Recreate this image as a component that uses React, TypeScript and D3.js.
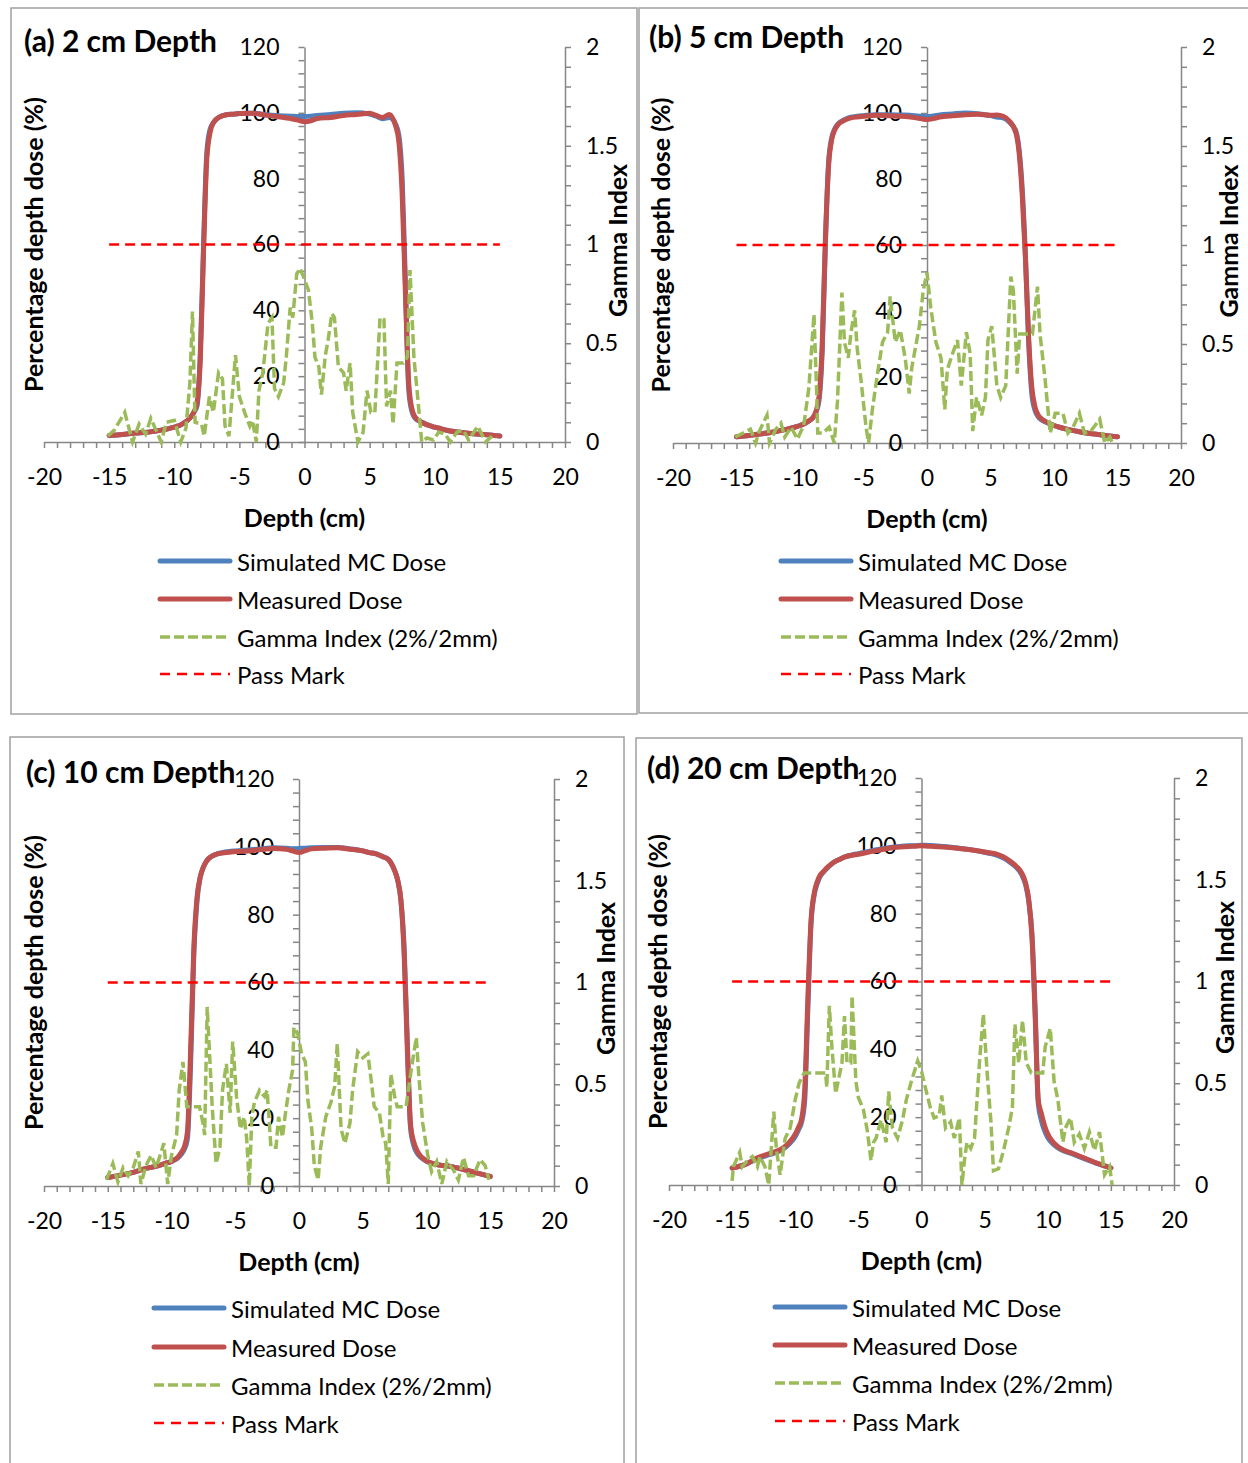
import React, { useRef, useEffect } from 'react';
import * as d3 from 'd3';

// sampling positions of the dose profiles (cm), shared by the four depths
const depthCm = [-15, -14, -13, -12, -11, -10.5, -10, -9.75, -9.5, -9.25, -9, -8.75, -8.5, -8.25, -8,
  -7.75, -7.5, -7.25, -7, -6.5, -6, -5.5, -5, -4, -3, -2, -1, -0.5, 0, 0.5, 1, 2, 3, 4, 5, 5.5, 6, 6.5, 7,
  7.25, 7.5, 7.75, 8, 8.25, 8.5, 8.75, 9, 9.25, 9.5, 9.75, 10, 10.5, 11, 12, 13, 14, 15];

// (a) 2 cm
const measured2 = [2.0, 2.3, 2.7, 3.0, 3.6, 4.0, 4.5, 4.8, 5.2, 5.8, 6.5, 7.5, 9.0, 12, 25,
  58, 86, 94, 97, 98.8, 99.4, 99.6, 99.8, 99.9, 99.3, 98.8, 98.2, 97.8, 97.3, 97.6, 98.3, 98.6, 99.2, 99.5, 99.9, 99.2, 98.6, 99.5, 96,
  91, 75, 45, 18, 10, 7.5, 6.6, 6.0, 5.5, 5.1, 4.8, 4.5, 4.0, 3.5, 2.9, 2.5, 2.2, 1.8];
const simulated2 = [2.0, 2.3, 2.7, 3.0, 3.6, 4.0, 4.5, 4.8, 5.2, 5.8, 6.5, 7.5, 9.0, 11, 27,
  60, 88, 95, 97, 98.8, 99.4, 99.6, 99.8, 99.9, 99.4, 99.1, 99.0, 98.9, 98.9, 99.0, 99.2, 99.5, 99.9, 100, 99.6, 99.0, 98.2, 98.6, 96.5,
  93, 80, 48, 16, 9.2, 7.2, 6.5, 6.0, 5.5, 5.1, 4.8, 4.5, 4.0, 3.5, 2.9, 2.5, 2.2, 1.8];

// (b) 5 cm
const measured5 = [1.9, 2.3, 2.8, 3.4, 4.2, 4.7, 5.3, 5.7, 6.2, 6.8, 7.6, 9.5, 14, 30, 62,
  84, 92, 95, 96.5, 97.8, 98.5, 98.8, 99, 99.3, 99.2, 99, 98.6, 98.3, 98.0, 98.3, 98.8, 99.2, 99.5, 99.6, 99.3, 99.4, 99, 97.5, 94,
  88, 75, 56, 32, 17, 11, 8.5, 7.4, 6.7, 6.2, 5.7, 5.3, 4.7, 4.2, 3.4, 2.8, 2.3, 1.9];
const simulated5 = [1.9, 2.3, 2.8, 3.4, 4.2, 4.7, 5.3, 5.7, 6.2, 6.8, 7.6, 9.3, 13, 28, 60,
  85, 92.5, 95.3, 96.7, 98, 98.7, 99, 99.2, 99.5, 99.5, 99.4, 99.2, 99.0, 98.9, 99.1, 99.4, 99.7, 100, 99.8, 99.2, 98.8, 98.5, 97.2, 94.5,
  89, 77, 57, 31, 15, 10, 8.0, 7.0, 6.5, 6.1, 5.7, 5.3, 4.7, 4.2, 3.4, 2.8, 2.3, 1.9];

// (c) 10 cm
const measured10 = [2.5, 3.2, 4.0, 5.2, 6.0, 6.7, 7.2, 7.8, 8.5, 9.8, 11.5, 16, 40, 70, 85,
  91, 94, 95.8, 96.8, 97.8, 98.2, 98.4, 98.6, 98.8, 99.2, 99.5, 99.3, 98.8, 98.3, 98.9, 99.4, 99.6, 99.7, 99.3, 98.8, 98.3, 98, 97.2, 96.3,
  95, 93, 90, 84, 68, 40, 18, 13, 10.5, 9, 8.1, 7.4, 6.6, 6.2, 5.7, 4.8, 3.8, 2.8];
const simulated10 = [2.5, 3.2, 4.0, 5.2, 6.0, 6.7, 7.2, 7.7, 8.3, 9.3, 10.8, 14, 36, 68, 84,
  91, 94, 95.8, 96.8, 97.8, 98.3, 98.6, 98.8, 99.1, 99.4, 99.7, 99.6, 99.4, 99.5, 99.6, 99.7, 99.8, 99.8, 99.4, 98.8, 98.3, 98, 97.2, 96.3,
  95, 93, 90, 84, 70, 42, 17, 12, 9.8, 8.6, 7.9, 7.3, 6.6, 6.2, 5.7, 4.8, 3.8, 2.8];

// (d) 20 cm
const measured20 = [5.0, 6.0, 8.0, 9.3, 10.8, 12.5, 15, 17, 19.5, 28, 55, 78, 86, 89.5, 91.5,
  92.5, 93.5, 94.3, 95, 96, 96.8, 97.2, 97.5, 98.3, 99, 99.6, 99.8, 99.9, 100, 99.9, 99.8, 99.6, 99.2, 98.8, 98.2, 97.9, 97.5, 96.7, 95.5,
  94.8, 94, 93, 91.5, 89, 84, 73, 50, 25, 21, 17.5, 15, 12.3, 10.8, 9.3, 7.8, 6.3, 5.0];
const simulated20 = [5.0, 6.0, 7.8, 9.0, 10.5, 12.0, 14.3, 16.2, 18.5, 25, 52, 77, 85.5, 89, 91.2,
  92.3, 93.3, 94.2, 95, 96, 96.8, 97.3, 97.7, 98.5, 99.2, 99.7, 100, 100, 100.2, 100.1, 100, 99.7, 99.3, 98.8, 98.1, 97.7, 97.2, 96.4, 95.2,
  94.5, 93.7, 92.6, 91, 88.5, 83.5, 74, 52, 24, 19, 16, 14, 11.8, 10.5, 9.1, 7.6, 6.2, 5.0];

// gamma index (2%/2mm) along the profile: [cm, gamma]
const gamma2: [number, number][] = [[-15.1, 0.03], [-14.6, 0.06], [-13.8, 0.15], [-13.2, 0.0], [-12.7, 0.09], [-12.2, 0.04],
  [-11.8, 0.12], [-11.0, 0.0], [-10.6, 0.10], [-10.0, 0.11], [-9.5, 0.0], [-9.1, 0.07], [-8.8, 0.3], [-8.6, 0.66], [-8.4, 0.10],
  [-7.9, 0.09], [-7.7, 0.03], [-7.3, 0.23], [-7.0, 0.15], [-6.6, 0.35], [-6.3, 0.32], [-6.1, 0.08], [-5.8, 0.03], [-5.3, 0.44],
  [-5.0, 0.23], [-4.6, 0.15], [-4.2, 0.08], [-4.0, 0.11], [-3.7, 0.0], [-3.5, 0.26], [-3.2, 0.35], [-2.8, 0.60], [-2.5, 0.63],
  [-2.3, 0.27], [-2.0, 0.23], [-1.6, 0.30], [-1.4, 0.43], [-1.1, 0.68], [-0.9, 0.63], [-0.6, 0.85], [-0.35, 0.88], [-0.1, 0.84],
  [0.3, 0.77], [0.6, 0.60], [0.8, 0.43], [1.1, 0.38], [1.3, 0.24], [1.6, 0.44], [1.8, 0.51], [2.1, 0.65], [2.3, 0.63], [2.6, 0.38],
  [3.0, 0.35], [3.2, 0.26], [3.5, 0.40], [3.7, 0.15], [4.1, 0.0], [4.5, 0.05], [4.8, 0.26], [5.1, 0.15], [5.4, 0.15], [5.8, 0.63],
  [6.1, 0.62], [6.3, 0.18], [6.6, 0.26], [6.8, 0.09], [7.1, 0.40], [7.6, 0.40], [7.9, 0.43], [8.1, 0.87], [8.4, 0.43], [8.7, 0.22],
  [9.0, 0.0], [9.4, 0.02], [9.9, 0.01], [10.3, 0.05], [10.8, 0.04], [11.2, 0.0], [11.7, 0.05], [12.2, 0.06], [12.6, 0.01],
  [13.3, 0.08], [13.9, 0.0], [14.4, 0.03], [14.7, 0.02]];

const gamma5: [number, number][] = [[-15.1, 0.03], [-13.9, 0.07], [-13.5, 0.0], [-13.2, 0.06], [-12.6, 0.14], [-12.4, 0.0],
  [-11.9, 0.07], [-11.5, 0.10], [-11.2, 0.03], [-10.7, 0.08], [-10.2, 0.02], [-9.7, 0.09], [-9.3, 0.28], [-8.9, 0.65], [-8.7, 0.28],
  [-8.6, 0.05], [-8.2, 0.05], [-7.7, 0.08], [-7.3, 0.0], [-7.05, 0.21], [-6.7, 0.76], [-6.5, 0.51], [-6.2, 0.43], [-6.0, 0.55],
  [-5.7, 0.67], [-5.5, 0.48], [-5.2, 0.32], [-4.8, 0.08], [-4.6, 0.0], [-4.3, 0.17], [-3.9, 0.35], [-3.5, 0.51], [-3.1, 0.56],
  [-2.9, 0.74], [-2.5, 0.51], [-2.1, 0.57], [-1.7, 0.42], [-1.4, 0.25], [-1.2, 0.38], [-0.6, 0.59], [-0.3, 0.77], [0.0, 0.86],
  [0.3, 0.68], [0.7, 0.51], [1.1, 0.43], [1.4, 0.17], [1.6, 0.37], [2.0, 0.45], [2.4, 0.52], [2.7, 0.29], [3.1, 0.56], [3.4, 0.45],
  [3.6, 0.06], [3.9, 0.23], [4.3, 0.14], [4.6, 0.23], [4.8, 0.52], [5.1, 0.59], [5.5, 0.29], [5.8, 0.23], [6.2, 0.29], [6.6, 0.84],
  [6.8, 0.77], [7.1, 0.35], [7.3, 0.55], [7.7, 0.55], [8.3, 0.55], [8.7, 0.79], [8.9, 0.55], [9.3, 0.32], [9.7, 0.05], [10.1, 0.15],
  [10.7, 0.15], [11.1, 0.05], [11.5, 0.08], [12.0, 0.15], [12.4, 0.05], [12.9, 0.06], [13.6, 0.12], [14.0, 0.0], [14.4, 0.03],
  [14.6, 0.0]];

const gamma10: [number, number][] = [[-15.1, 0.03], [-14.6, 0.11], [-14.2, 0.02], [-13.8, 0.09], [-13.4, 0.05], [-13.0, 0.09],
  [-12.6, 0.17], [-12.4, 0.01], [-12.0, 0.10], [-11.6, 0.15], [-11.2, 0.09], [-10.6, 0.21], [-10.3, 0.01], [-10.0, 0.15],
  [-9.6, 0.25], [-9.4, 0.47], [-9.1, 0.61], [-8.8, 0.39], [-7.8, 0.39], [-7.5, 0.30], [-7.4, 0.25], [-7.2, 0.88], [-7.0, 0.63],
  [-6.8, 0.38], [-6.5, 0.11], [-6.2, 0.19], [-6.0, 0.47], [-5.7, 0.60], [-5.4, 0.36], [-5.2, 0.71], [-4.9, 0.44], [-4.6, 0.28],
  [-4.3, 0.34], [-4.1, 0.23], [-3.9, 0.0], [-3.7, 0.34], [-3.5, 0.41], [-3.1, 0.47], [-2.7, 0.44], [-2.5, 0.47], [-2.2, 0.19],
  [-1.8, 0.19], [-1.6, 0.34], [-1.3, 0.24], [-1.1, 0.34], [-0.8, 0.47], [-0.5, 0.57], [-0.4, 0.78], [-0.1, 0.75], [0.2, 0.65],
  [0.5, 0.61], [0.7, 0.42], [1.0, 0.28], [1.2, 0.10], [1.5, 0.03], [1.7, 0.19], [2.1, 0.34], [2.5, 0.41], [2.8, 0.49], [3.0, 0.70],
  [3.3, 0.28], [3.6, 0.21], [4.0, 0.31], [4.2, 0.47], [4.6, 0.66], [5.0, 0.63], [5.4, 0.65], [5.7, 0.50], [5.9, 0.39], [6.3, 0.36],
  [6.6, 0.24], [6.8, 0.21], [7.0, 0.01], [7.2, 0.55], [7.5, 0.44], [7.7, 0.39], [8.4, 0.39], [8.8, 0.57], [9.2, 0.73], [9.4, 0.54],
  [9.7, 0.31], [10.1, 0.15], [10.4, 0.07], [10.8, 0.12], [11.2, 0.01], [11.6, 0.12], [12.1, 0.08], [12.5, 0.03], [12.9, 0.14],
  [13.3, 0.05], [13.7, 0.05], [14.2, 0.13], [14.6, 0.10], [14.9, 0.03]];

const gamma20: [number, number][] = [[-15.0, 0.02], [-14.9, 0.09], [-14.4, 0.16], [-14.2, 0.09], [-13.8, 0.12], [-13.4, 0.14],
  [-13.0, 0.09], [-12.8, 0.14], [-12.4, 0.09], [-12.1, 0.0], [-11.9, 0.18], [-11.7, 0.36], [-11.5, 0.18], [-11.2, 0.05],
  [-10.8, 0.23], [-10.4, 0.28], [-10.0, 0.42], [-9.7, 0.50], [-9.3, 0.55], [-7.6, 0.55], [-7.5, 0.48], [-7.3, 0.88], [-7.1, 0.68],
  [-6.8, 0.45], [-6.6, 0.51], [-6.3, 0.60], [-6.1, 0.83], [-5.9, 0.60], [-5.6, 0.60], [-5.5, 0.93], [-5.2, 0.51], [-5.0, 0.43],
  [-4.6, 0.37], [-4.3, 0.27], [-4.0, 0.12], [-3.8, 0.21], [-3.6, 0.23], [-3.2, 0.32], [-2.8, 0.21], [-2.6, 0.46], [-2.3, 0.28],
  [-1.9, 0.23], [-1.5, 0.32], [-1.2, 0.42], [-0.8, 0.51], [-0.3, 0.61], [0.0, 0.56], [0.3, 0.48], [0.7, 0.38], [1.0, 0.33],
  [1.4, 0.34], [1.6, 0.44], [1.9, 0.28], [2.3, 0.31], [2.6, 0.23], [3.0, 0.33], [3.2, 0.0], [3.4, 0.12], [3.6, 0.21], [3.9, 0.18],
  [4.2, 0.23], [4.6, 0.61], [4.9, 0.84], [5.2, 0.55], [5.5, 0.31], [5.7, 0.07], [6.1, 0.08], [6.5, 0.17], [6.9, 0.28], [7.2, 0.38],
  [7.4, 0.79], [7.7, 0.60], [8.0, 0.81], [8.3, 0.60], [8.7, 0.55], [9.6, 0.55], [9.8, 0.68], [10.2, 0.77], [10.5, 0.51],
  [10.8, 0.42], [11.2, 0.21], [11.4, 0.28], [11.8, 0.33], [12.1, 0.21], [12.5, 0.25], [12.9, 0.18], [13.3, 0.26], [13.7, 0.17],
  [14.1, 0.26], [14.5, 0.05], [14.9, 0.09], [15.1, 0.0]];

const titles = ['(a) 2 cm Depth', '(b) 5 cm Depth', '(c) 10 cm Depth', '(d) 20 cm Depth'];
const legendLabels = ['Simulated MC Dose', 'Measured Dose', 'Gamma Index (2%/2mm)', 'Pass Mark'];
const xTicks = [-20, -15, -10, -5, 0, 5, 10, 15, 20];
const doseTicks = [0, 20, 40, 60, 80, 100, 120];
const gammaTicks = [0, 0.5, 1, 1.5, 2];
const passMark = 1;
const passRange = [-15, 15];

const series = [
  { sim: simulated2, meas: measured2, gamma: gamma2 },
  { sim: simulated5, meas: measured5, gamma: gamma5 },
  { sim: simulated10, meas: measured10, gamma: gamma10 },
  { sim: simulated20, meas: measured20, gamma: gamma20 },
];

// page layout of each panel
const layouts = [
  { box: [11, 8, 626, 706], x0: 44, x1: 565, yb: 442, yt: 47, title: [24, 52], legX: 160, legY: [561, 599, 637, 674], yLab: 33, gLab: 617 },
  { box: [639, 8, 640, 705], x0: 673, x1: 1181, yb: 443, yt: 47, title: [649, 48], legX: 781, legY: [561, 599, 637, 674], yLab: 660, gLab: 1228 },
  { box: [10, 737, 614, 760], x0: 44, x1: 554, yb: 1186, yt: 779, title: [26, 783], legX: 154, legY: [1308, 1347, 1385, 1423], yLab: 33, gLab: 605 },
  { box: [636, 738, 606, 760], x0: 669, x1: 1174, yb: 1185, yt: 778, title: [647, 779], legX: 775, legY: [1307, 1345, 1383, 1421], yLab: 657, gLab: 1224 },
];

const FONT = 'Lato, sans-serif';
const AXIS = '#868686';
const BLUE = '#4f81bd';
const RED = '#c0504d';
const GREEN = '#9bbb59';

export default function App() {
  const svgRef = useRef<SVGSVGElement>(null);

  useEffect(() => {
    const svg = d3.select(svgRef.current);
    svg.selectAll('*').remove();
    svg.append('rect').attr('width', 1248).attr('height', 1463).attr('fill', 'white');

    layouts.forEach((L, i) => {
      const s = series[i];
      const g = svg.append('g');

      g.append('rect')
        .attr('x', L.box[0]).attr('y', L.box[1])
        .attr('width', L.box[2]).attr('height', L.box[3])
        .attr('fill', 'none').attr('stroke', '#a0a0a0').attr('stroke-width', 1.5);

      const x = d3.scaleLinear().domain([-20, 20]).range([L.x0, L.x1]);
      const y = d3.scaleLinear().domain([0, 120]).range([L.yb, L.yt]);
      const yg = d3.scaleLinear().domain([0, 2]).range([L.yb, L.yt]);

      const styleAxis = (sel: any) => {
        sel.select('.domain').attr('stroke', AXIS).attr('stroke-width', 1.5);
        sel.selectAll('.tick line').attr('stroke', AXIS).attr('stroke-width', 1.5);
        sel.selectAll('.tick text').attr('font-family', FONT).attr('font-size', 23).attr('fill', 'black');
      };

      // x axis
      g.append('g')
        .attr('transform', `translate(0,${L.yb})`)
        .call(d3.axisBottom(x)
          .tickValues(d3.range(-20, 21, 1))
          .tickSize(6).tickSizeOuter(0).tickPadding(21)
          .tickFormat((d: any) => (xTicks.includes(d) ? String(d) : '')))
        .call(styleAxis);

      // primary y axis at depth 0
      g.append('g')
        .attr('transform', `translate(${x(0)},0)`)
        .call(d3.axisLeft(y)
          .tickValues(d3.range(0, 121, 4))
          .tickSize(6).tickSizeOuter(0).tickPadding(19)
          .tickFormat((d: any) => (doseTicks.includes(d) ? String(d) : '')))
        .call(styleAxis);

      // secondary y axis (gamma)
      g.append('g')
        .attr('transform', `translate(${L.x1},0)`)
        .call(d3.axisRight(yg)
          .tickValues(d3.range(0, 21).map(k => k / 10))
          .tickSize(6).tickSizeOuter(0).tickPadding(15)
          .tickFormat((d: any) => (gammaTicks.includes(d) ? String(d) : '')))
        .call(styleAxis);

      // dose profiles
      const doseLine = d3.line<number>()
        .x((_, k) => x(depthCm[k]))
        .y(d => y(d))
        .curve(d3.curveMonotoneX);

      g.append('path').datum(s.sim)
        .attr('fill', 'none').attr('stroke', BLUE).attr('stroke-width', 5)
        .attr('stroke-linejoin', 'round').attr('stroke-linecap', 'round')
        .attr('d', doseLine);
      g.append('path').datum(s.meas)
        .attr('fill', 'none').attr('stroke', RED).attr('stroke-width', 5)
        .attr('stroke-linejoin', 'round').attr('stroke-linecap', 'round')
        .attr('d', doseLine);

      // gamma index
      const gammaLine = d3.line<[number, number]>()
        .x(d => x(d[0]))
        .y(d => yg(d[1]));
      g.append('path').datum(s.gamma)
        .attr('fill', 'none').attr('stroke', GREEN).attr('stroke-width', 3.5)
        .attr('stroke-dasharray', '10 4')
        .attr('d', gammaLine);

      // pass mark
      g.append('line')
        .attr('x1', x(passRange[0])).attr('x2', x(passRange[1]))
        .attr('y1', yg(passMark)).attr('y2', yg(passMark))
        .attr('stroke', '#ff0000').attr('stroke-width', 2.5)
        .attr('stroke-dasharray', '10 6');

      // titles
      g.append('text')
        .attr('x', L.title[0]).attr('y', L.title[1])
        .attr('font-family', FONT).attr('font-weight', 'bold').attr('font-size', 30)
        .text(titles[i]);

      g.append('text')
        .attr('x', (L.x0 + L.x1) / 2).attr('y', L.yb + 75)
        .attr('text-anchor', 'middle').attr('dominant-baseline', 'central')
        .attr('font-family', FONT).attr('font-weight', 'bold').attr('font-size', 25)
        .text('Depth (cm)');

      g.append('text')
        .attr('transform', `translate(${L.yLab},${(L.yb + L.yt) / 2}) rotate(-90)`)
        .attr('text-anchor', 'middle').attr('dominant-baseline', 'central')
        .attr('font-family', FONT).attr('font-weight', 'bold').attr('font-size', 25)
        .text('Percentage depth dose (%)');

      g.append('text')
        .attr('transform', `translate(${L.gLab},${(L.yb + L.yt) / 2 - 4}) rotate(-90)`)
        .attr('text-anchor', 'middle').attr('dominant-baseline', 'central')
        .attr('font-family', FONT).attr('font-weight', 'bold').attr('font-size', 25)
        .text('Gamma Index');

      // legend
      const legStyles = [
        { color: BLUE, width: 5, dash: null },
        { color: RED, width: 5, dash: null },
        { color: GREEN, width: 3.5, dash: '10 4' },
        { color: '#ff0000', width: 2.5, dash: '10 7' },
      ];
      legendLabels.forEach((label, k) => {
        const st = legStyles[k];
        const ly = L.legY[k];
        g.append('line')
          .attr('x1', L.legX).attr('x2', L.legX + 70)
          .attr('y1', ly).attr('y2', ly)
          .attr('stroke', st.color).attr('stroke-width', st.width)
          .attr('stroke-linecap', st.dash ? 'butt' : 'round')
          .attr('stroke-dasharray', st.dash);
        g.append('text')
          .attr('x', L.legX + 77).attr('y', ly)
          .attr('dominant-baseline', 'central')
          .attr('font-family', FONT).attr('font-size', 24)
          .text(label);
      });
    });
  }, []);

  return (
    <svg ref={svgRef} width={1248} height={1463}
      style={{ position: 'absolute', left: 0, top: 0, display: 'block' }} />
  );
}
